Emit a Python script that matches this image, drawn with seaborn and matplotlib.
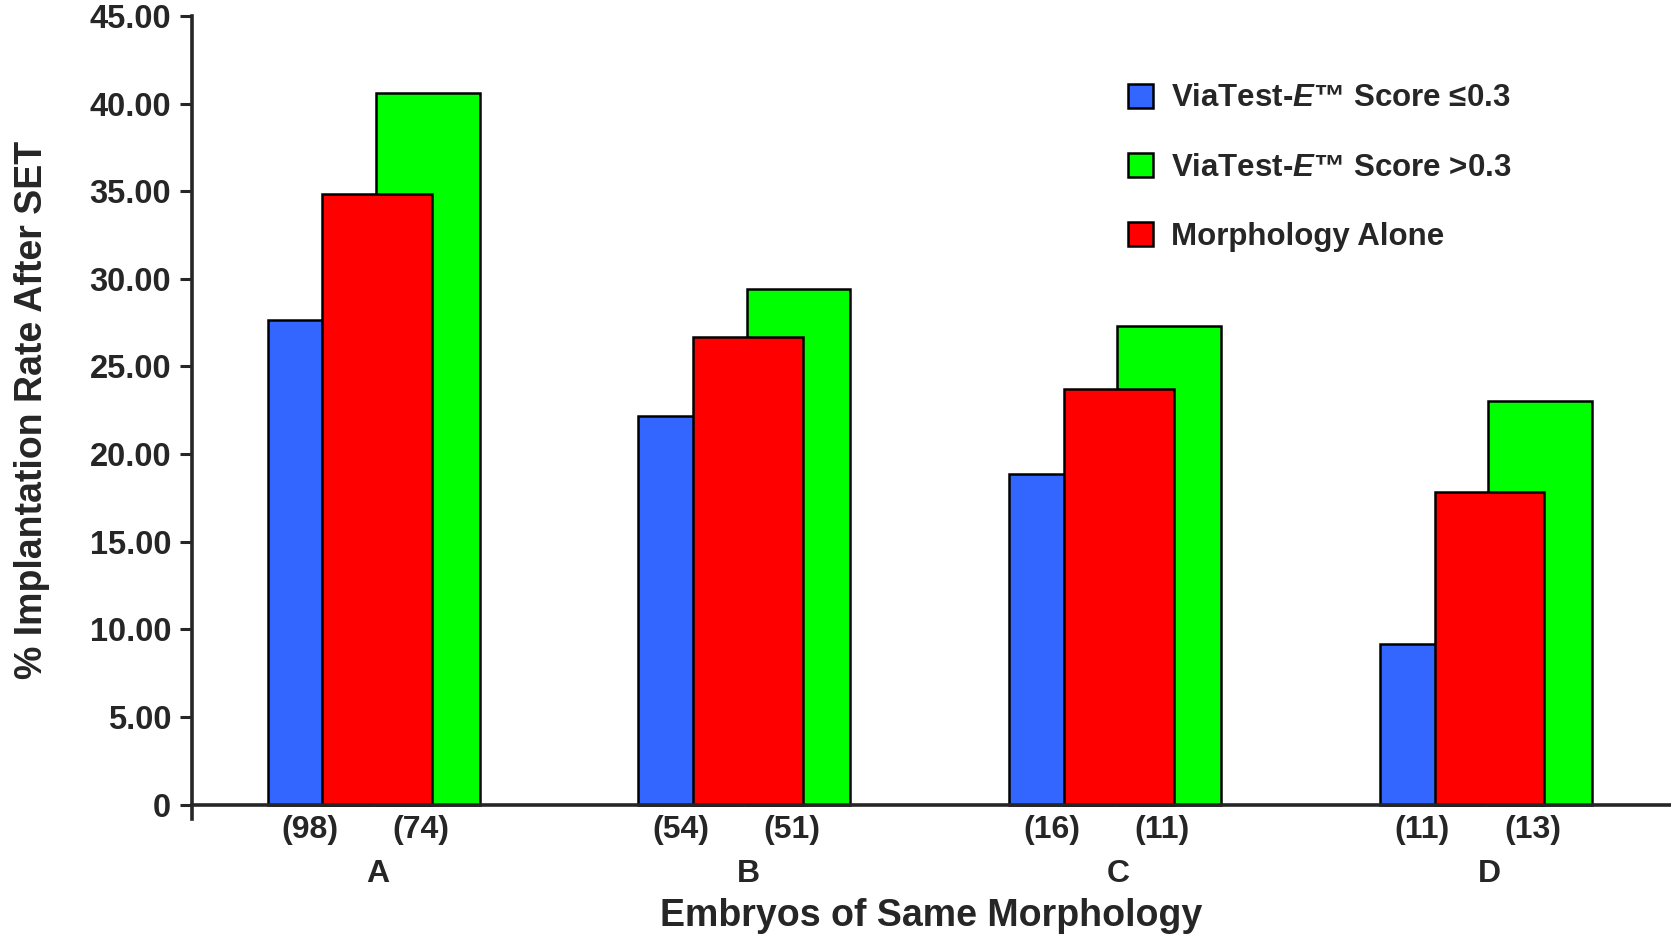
import numpy as np
import matplotlib
matplotlib.use('Agg')
import matplotlib.pyplot as plt
from matplotlib.patches import Patch
import seaborn as sns

# values
groups = ['A', 'B', 'C', 'D']
low_score = [27.67, 22.2, 18.86, 9.18]     # ViaTest-E score <=0.3
high_score = [40.63, 29.44, 27.31, 23.05]  # ViaTest-E score >0.3
morphology = [34.85, 26.7, 23.72, 17.82]   # morphology alone
n_low = [98, 54, 16, 11]
n_high = [74, 51, 11, 13]

BLUE = '#3366ff'
GREEN = '#00ff00'
RED = '#ff0000'


def main():
    sns.set_theme(style='ticks')
    plt.rcParams['font.family'] = ['Liberation Sans', 'DejaVu Sans']
    plt.rcParams['font.weight'] = 'bold'
    plt.rcParams['mathtext.fontset'] = 'custom'
    plt.rcParams['mathtext.it'] = 'Liberation Sans:italic:bold'
    plt.rcParams['mathtext.rm'] = 'Liberation Sans:bold'

    fig = plt.figure(figsize=(16.71, 9.38), dpi=100)
    ax = fig.add_axes([0.1149, 0.1273, 0.8851, 0.8557])

    pos = np.arange(len(groups))
    edge = dict(edgecolor='black', linewidth=1.8, saturation=1,
                errorbar=None, native_scale=True, ax=ax)

    # blue and green first, red drawn over the top of them
    sns.barplot(x=pos - 0.156, y=low_score, width=0.28, color=BLUE, **edge)
    sns.barplot(x=pos + 0.136, y=high_score, width=0.28, color=GREEN, **edge)
    sns.barplot(x=pos, y=morphology, width=0.296, color=RED, **edge)

    ax.set_xlim(-0.5, 3.49)
    ax.set_ylim(-0.8, 45)

    ticks = np.arange(0, 46, 5)
    ax.set_yticks(ticks, ['0'] + ['%.2f' % t for t in ticks[1:]])
    ax.set_xticks(pos, groups)
    ax.tick_params(axis='y', direction='out', length=9, width=2.2,
                   labelsize=23.5, pad=6)
    ax.tick_params(axis='x', length=0, labelsize=23, pad=39)

    sns.despine(ax=ax)
    ax.spines['bottom'].set_position(('data', 0))
    ax.spines['bottom'].set_linewidth(2.6)
    ax.spines['left'].set_linewidth(2.6)

    # sample sizes under each pair of bars
    for i in range(len(groups)):
        ax.text(pos[i] - 0.181, -1.45, '(%d)' % n_low[i], ha='center',
                va='center', fontsize=23, fontweight='bold')
        ax.text(pos[i] + 0.118, -1.45, '(%d)' % n_high[i], ha='center',
                va='center', fontsize=23, fontweight='bold')

    ax.set_xlabel('Embryos of Same Morphology', fontsize=27,
                  fontweight='bold', va='center')
    ax.xaxis.set_label_coords(0.5, -0.121)
    ax.set_ylabel('% Implantation Rate After SET', fontsize=27,
                  fontweight='bold', va='center')
    ax.yaxis.set_label_coords(-0.108, 0.509)

    handles = [Patch(facecolor=c, edgecolor='black', linewidth=1.8)
               for c in (BLUE, GREEN, RED)]
    labels = [r'ViaTest-$\mathit{E}$™ Score ≤0.3',
              r'ViaTest-$\mathit{E}$™ Score >0.3',
              'Morphology Alone']
    fig.legend(handles, labels, loc='upper left',
               bbox_to_anchor=(0.675, 0.911), frameon=False,
               fontsize=22.5, borderpad=0, handlelength=0.81,
               handleheight=0.81, handletextpad=0.57, labelspacing=1.25,
               borderaxespad=0)

    fig.savefig('out.png', dpi=100)


if __name__ == '__main__':
    main()
